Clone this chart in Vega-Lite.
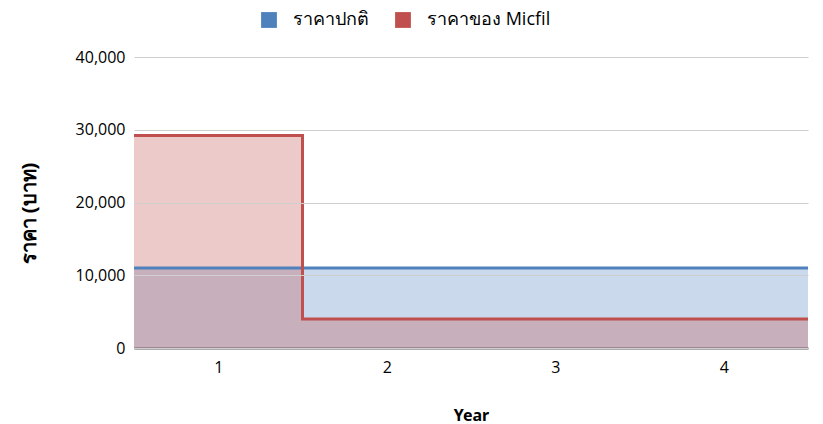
{
  "$schema": "https://vega.github.io/schema/vega-lite/v6.json",
  "width": 674,
  "height": 291,
  "autosize": {"type": "none"},
  "padding": {"left": 134, "top": 57, "right": 15, "bottom": 76},
  "background": "white",
  "config": {
    "view": {"stroke": null},
    "font": "Open Sans",
    "axis": {"labelFont": "Open Sans", "titleFont": "Noto Sans", "labelColor": "#000000", "titleColor": "#000000"}
  },
  "data": {
    "values": [
      {"series": "ราคาปกติ", "x": 0.5, "value": 11000},
      {"series": "ราคาปกติ", "x": 1.5, "value": 11000},
      {"series": "ราคาปกติ", "x": 2.5, "value": 11000},
      {"series": "ราคาปกติ", "x": 3.5, "value": 11000},
      {"series": "ราคาปกติ", "x": 4.5, "value": 11000},
      {"series": "ราคาของ Micfil", "x": 0.5, "value": 29200},
      {"series": "ราคาของ Micfil", "x": 1.5, "value": 4000},
      {"series": "ราคาของ Micfil", "x": 2.5, "value": 4000},
      {"series": "ราคาของ Micfil", "x": 3.5, "value": 4000},
      {"series": "ราคาของ Micfil", "x": 4.5, "value": 4000}
    ]
  },
  "encoding": {
    "x": {
      "field": "x", "type": "quantitative",
      "scale": {"domain": [0.5, 4.5], "nice": false, "zero": false},
      "axis": {
        "values": [1, 2, 3, 4], "grid": false, "ticks": false,
        "domainColor": "#595959", "domainWidth": 2,
        "labelFontSize": 16, "labelPadding": 11,
        "title": "Year", "titleFontSize": 16, "titleFontWeight": "bold", "titlePadding": 32
      }
    },
    "y": {
      "field": "value", "type": "quantitative",
      "scale": {"domain": [0, 40000], "nice": false},
      "axis": {
        "values": [0, 10000, 20000, 30000, 40000], "format": ",.0f",
        "domain": false, "ticks": false, "gridColor": "#CFCFCF", "gridWidth": 1.2,
        "zindex": 1,
        "labelFontSize": 16, "labelPadding": 9,
        "title": "ราคา (บาท)", "titleFontSize": 20, "titleFontWeight": "bold", "titlePadding": 36,
        "titleY": 156
      }
    },
    "color": {
      "field": "series", "type": "nominal",
      "scale": {"domain": ["ราคาปกติ", "ราคาของ Micfil"], "range": ["#4F81BD", "#C0504D"]},
      "legend": {
        "title": null, "orient": "none", "direction": "horizontal",
        "legendX": 126, "legendY": -46,
        "symbolType": "square", "symbolSize": 250, "symbolOpacity": 1, "symbolStrokeWidth": 0,
        "labelFontSize": 18, "labelFont": "Open Sans", "labelOffset": 15, "columnPadding": 25
      }
    }
  },
  "layer": [
    {
      "transform": [{"filter": "datum.series === 'ราคาปกติ'"}],
      "mark": {"type": "area", "interpolate": "step-after", "opacity": 0.3}
    },
    {
      "transform": [{"filter": "datum.series === 'ราคาของ Micfil'"}],
      "mark": {"type": "area", "interpolate": "step-after", "opacity": 0.3}
    },
    {
      "transform": [{"filter": "datum.series === 'ราคาปกติ'"}],
      "mark": {"type": "line", "interpolate": "step-after", "strokeWidth": 3}
    },
    {
      "transform": [{"filter": "datum.series === 'ราคาของ Micfil'"}],
      "mark": {"type": "line", "interpolate": "step-after", "strokeWidth": 3}
    }
  ]
}
